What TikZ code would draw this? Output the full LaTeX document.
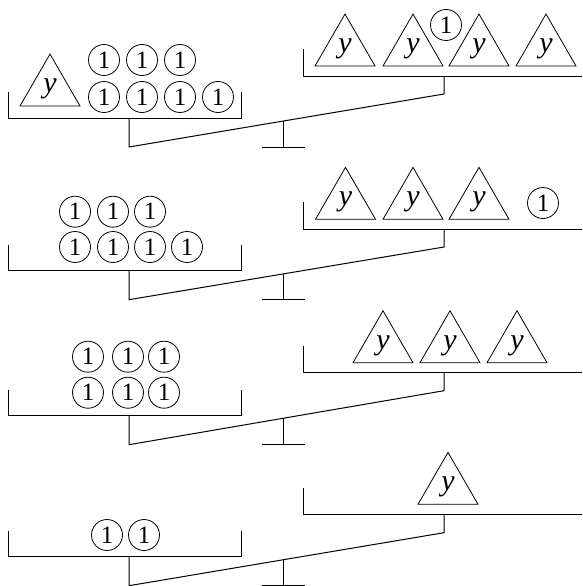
\documentclass[tikz,border=0pt]{standalone}
\usepackage{fontspec}
\setmainfont{Liberation Serif}
\usetikzlibrary{shapes.geometric}
\begin{document}
\begin{tikzpicture}[x=1pt,y=-1pt,line width=1pt,
    unit/.style={circle,draw,line width=0.8pt,inner sep=0pt,minimum size=31pt,font=\fontsize{25}{25}\selectfont},
    ybox/.style={regular polygon,regular polygon sides=3,draw,line width=0.8pt,inner sep=0pt,minimum size=69.3pt,font=\fontsize{30}{30}\selectfont\itshape}]
    \useasboundingbox (0,0) rectangle (582,586);
    % 绘制天平
    \foreach \L/\R [count=\i] in {118/76, 270.7/229, 415.7/372.7, 556.7/514.7} {
        \draw (8,{\L-26}) -- (8,\L) -- (241,\L) -- (241,{\L-26});
        \draw (303,{\R-27}) -- (303,\R) -- (582,\R);
        \draw (129,\L) -- (129,{\L+29}) coordinate (lb\i) -- (444,{\R+18}) coordinate (rb\i) -- (444,\R);
        \path (lb\i) -- (rb\i) coordinate[pos=0.489] (f\i);
        \draw (f\i) -- (f\i |- lb\i);
        \draw (262,{\L+29}) -- (305,{\L+29});
    }
    % 第一行
    \node[ybox] (ta) at (50,88.7) {\raisebox{-2pt}{y}};
    \foreach \x [count=\j] in {104,142,180} \node[unit] (ua\j) at (\x,60) {1};
    \foreach \x [count=\j] in {104,142,180,218} \node[unit] (va\j) at (\x,97) {1};
    \foreach \x [count=\j] in {345,413,479,546} \node[ybox] (sa\j) at (\x,48.7) {\raisebox{-2pt}{y}};
    \node[unit] (wa) at (446,25) {1};
    % 第二行
    \foreach \x [count=\j] in {75,113,150} \node[unit] (ub\j) at (\x,211.7) {1};
    \foreach \x [count=\j] in {75,113,150,187} \node[unit] (vb\j) at (\x,247) {1};
    \foreach \x [count=\j] in {345.5,413,479} \node[ybox] (sb\j) at (\x,202) {\raisebox{-2pt}{y}};
    \node[unit] (wb) at (543,203) {1};
    % 第三行
    \foreach \x [count=\j] in {88,128,164} \node[unit] (uc\j) at (\x,356.7) {1};
    \foreach \x [count=\j] in {88,128,164} \node[unit] (vc\j) at (\x,392.7) {1};
    \foreach \x [count=\j] in {383,450,517} \node[ybox] (sc\j) at (\x,345.4) {\raisebox{-2pt}{y}};
    % 第四行
    \foreach \x [count=\j] in {107,144} \node[unit] (vd\j) at (\x,535) {1};
    \node[ybox] (sd) at (448,487) {\raisebox{-2pt}{y}};
\end{tikzpicture}
\end{document}
